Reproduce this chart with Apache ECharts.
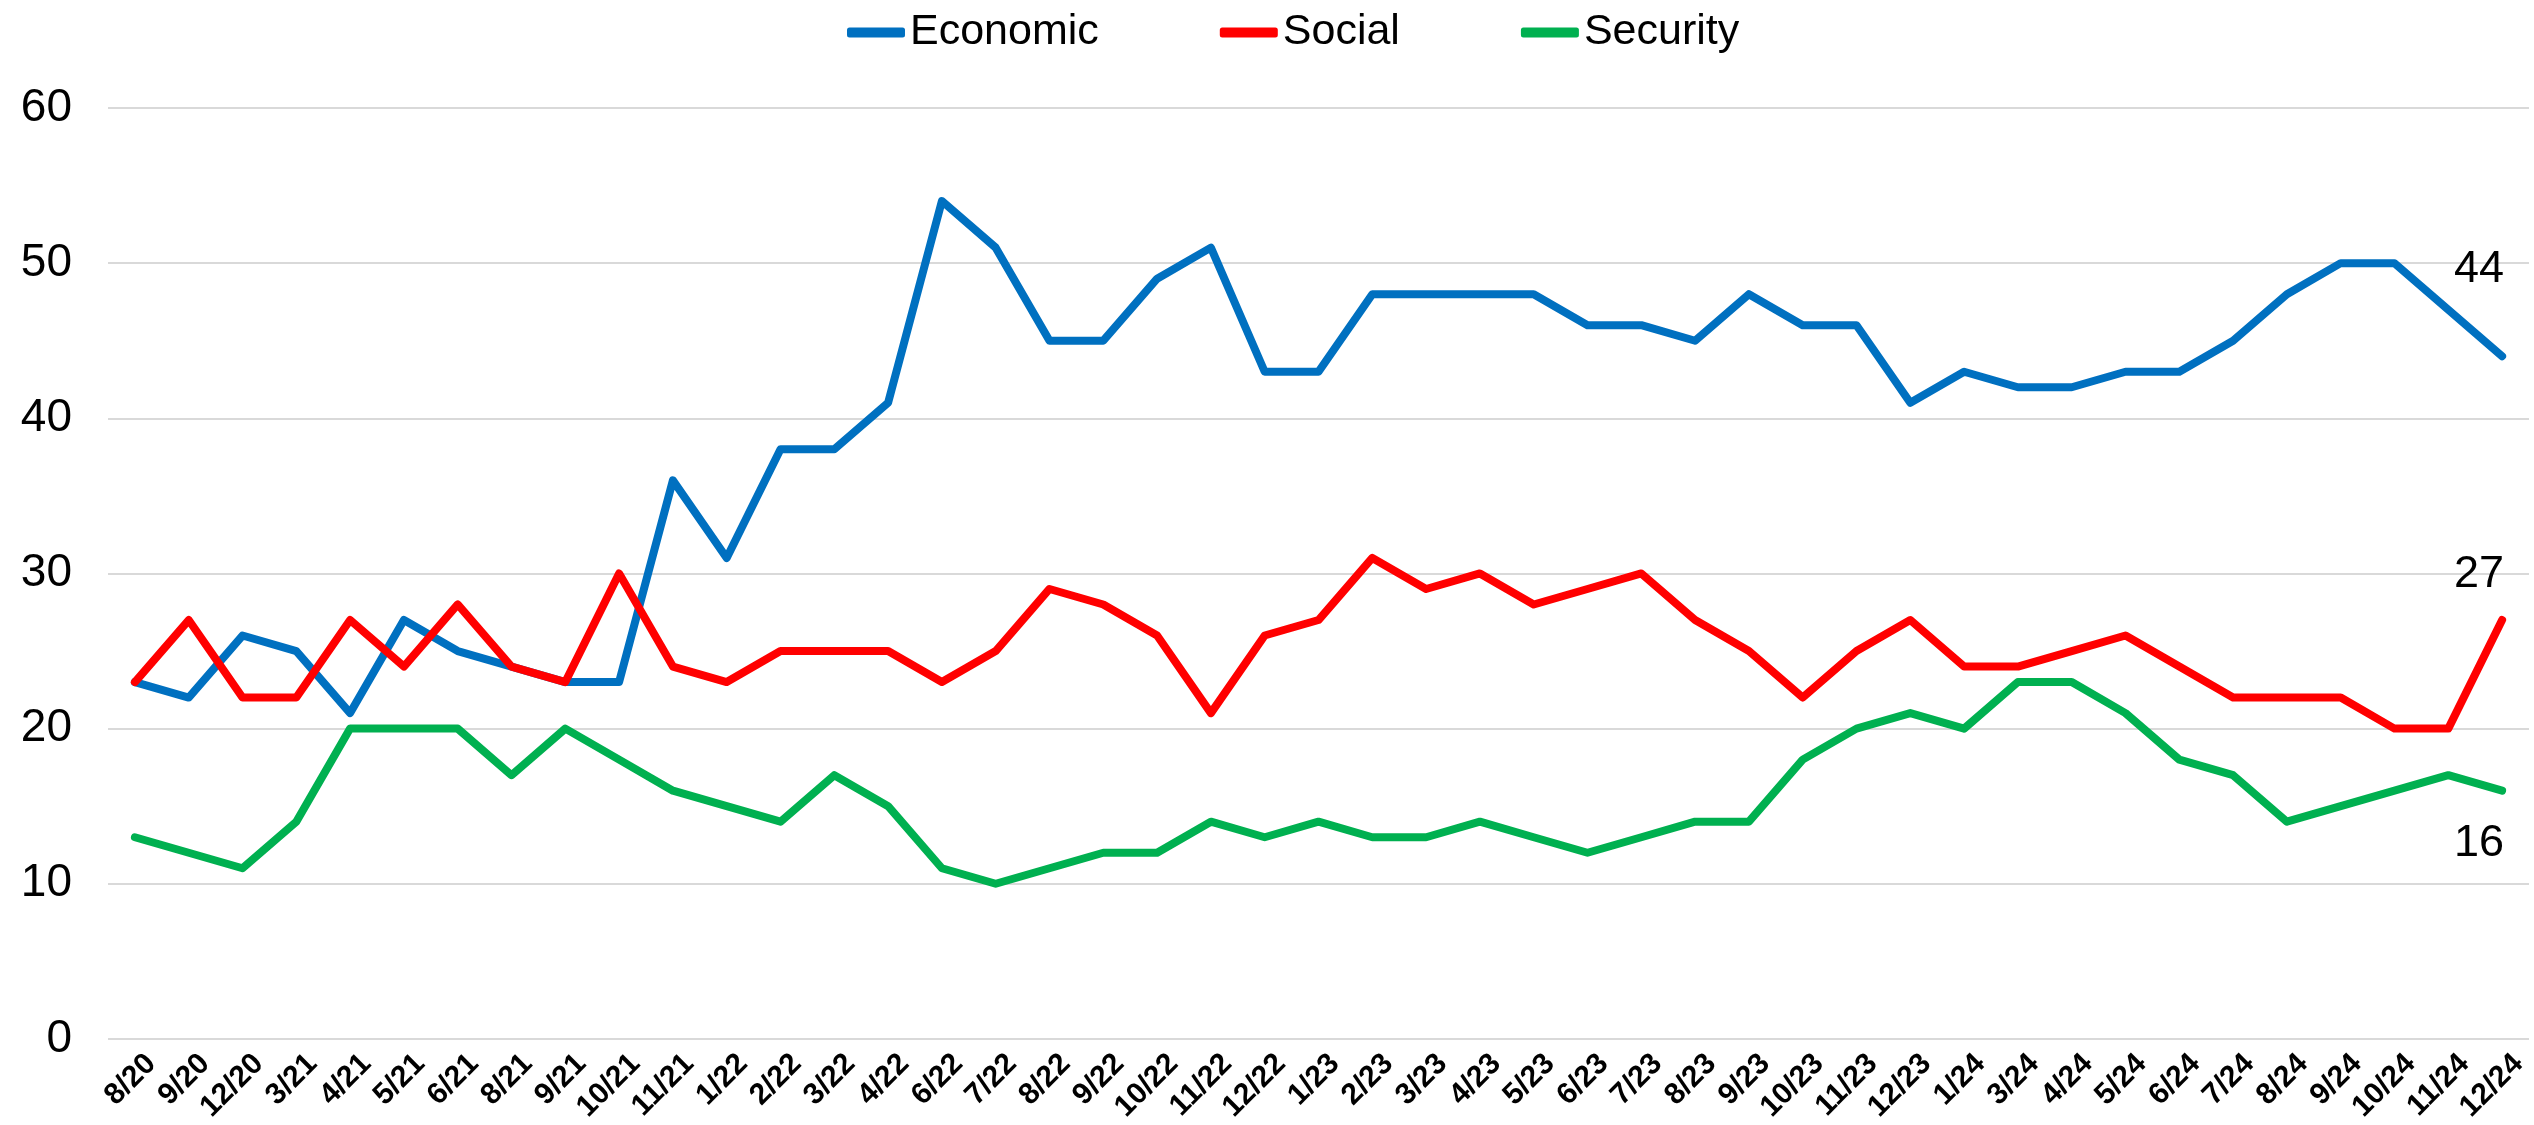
<!DOCTYPE html>
<html>
<head>
<meta charset="utf-8">
<script src="https://cdn.jsdelivr.net/npm/echarts@6/dist/echarts.min.js"></script>
<style>
html,body{margin:0;padding:0;background:#fff;}
#chart{width:2534px;height:1125px;}
</style>
</head>
<body>
<div id="chart"></div>
<script>
const categories = ["8/20","9/20","12/20","3/21","4/21","5/21","6/21","8/21","9/21","10/21","11/21","1/22","2/22","3/22","4/22","6/22","7/22","8/22","9/22","10/22","11/22","12/22","1/23","2/23","3/23","4/23","5/23","6/23","7/23","8/23","9/23","10/23","11/23","12/23","1/24","3/24","4/24","5/24","6/24","7/24","8/24","9/24","10/24","11/24","12/24"];
const economic = [23,22,26,25,21,27,25,24,23,23,36,31,38,38,41,54,51,45,45,49,51,43,43,48,48,48,48,46,46,45,48,46,46,41,43,42,42,43,43,45,48,50,50,47,44];
const social   = [23,27,22,22,27,24,28,24,23,30,24,23,25,25,25,23,25,29,28,26,21,26,27,31,29,30,28,29,30,27,25,22,25,27,24,24,25,26,24,22,22,22,20,20,27];
const security = [13,12,11,14,20,20,20,17,20,18,16,15,14,17,15,11,10,11,12,12,14,13,14,13,13,14,13,12,13,14,14,18,20,21,20,23,23,21,18,17,14,15,16,17,16];
const yTicks = {min:0, max:60, interval:10};

const FONT = "'Liberation Sans', Arial, sans-serif";
const chart = echarts.init(document.getElementById('chart'));

function mkSeries(name, data, color, pos, dist) {
  return {
    name: name, type: 'line', data: data,
    symbol: 'circle', symbolSize: 1, showSymbol: true,
    lineStyle: {width: 8, color: color, join: 'round', cap: 'round'},
    itemStyle: {color: color},
    emphasis: {disabled: true},
    z: name === 'Economic' ? 2 : (name === 'Social' ? 3 : 4),
    label: {
      show: true,
      position: pos,
      distance: dist,
      padding: [0, 46, 0, 0],
      fontFamily: FONT, fontSize: 45, color: '#000',
      formatter: function (p) { return p.dataIndex === data.length - 1 ? String(p.value) : ''; }
    },
    labelLayout: {hideOverlap: false}
  };
}

chart.setOption({
  animation: false,
  backgroundColor: '#fff',
  legend: {
    top: 6, left: 842,
    itemWidth: 58, itemHeight: 10, itemGap: 121,
    icon: 'roundRect',
    textStyle: {fontFamily: FONT, fontSize: 43, color: '#000'},
    data: ['Economic','Social','Security']
  },
  grid: {left: 108, right: 5, top: 108, bottom: 86, containLabel: false},
  xAxis: {
    type: 'category', data: categories, boundaryGap: true,
    axisLine: {show: false}, axisTick: {show: false},
    axisLabel: {interval: 0, rotate: 45, fontFamily: FONT, fontSize: 30, fontWeight: 'bold', color: '#000',
                margin: 4, verticalAlign: 'top', padding: [8, 0, 0, 0]}
  },
  yAxis: {
    type: 'value', min: yTicks.min, max: yTicks.max, interval: yTicks.interval,
    axisLine: {show: false}, axisTick: {show: false},
    axisLabel: {fontFamily: FONT, fontSize: 46, color: '#000', margin: 36},
    splitLine: {lineStyle: {color: '#D9D9D9', width: 2}}
  },
  series: [
    mkSeries('Economic', economic, '#0070C0', 'top', 64),
    mkSeries('Social', social, '#FF0000', 'top', 22),
    mkSeries('Security', security, '#00B050', 'bottom', 30)
  ]
});
</script>
</body>
</html>
